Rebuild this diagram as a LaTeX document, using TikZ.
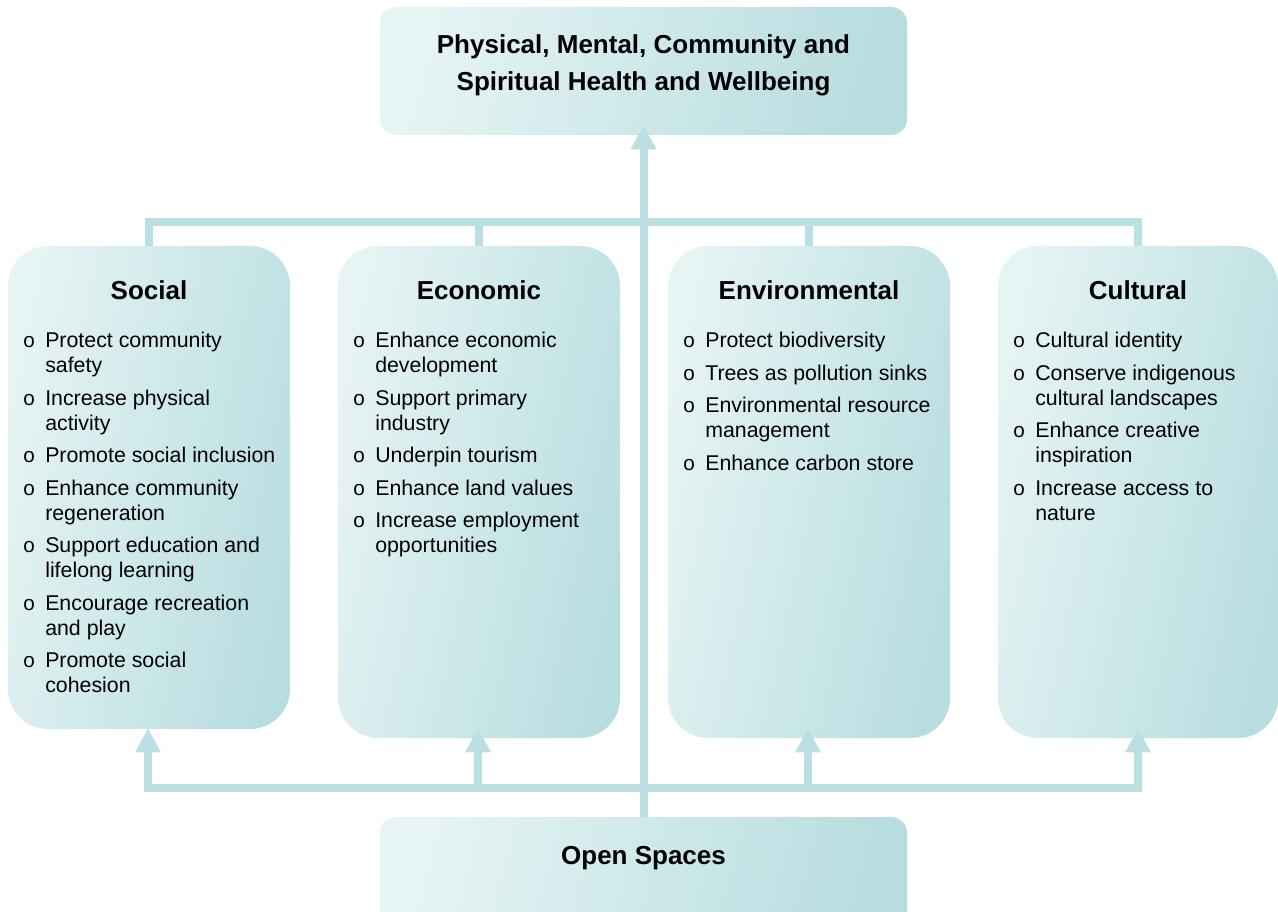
\documentclass[tikz,border=0pt]{standalone}
\usepackage{fontspec}
\setmainfont{Liberation Sans}
\usetikzlibrary{arrows.meta,calc}
\definecolor{boxlight}{HTML}{E6F4F4}
\definecolor{boxdark}{HTML}{B8DDE0}
\definecolor{conncol}{HTML}{BBDFE2}
\newcommand{\bitem}[1]{\par\noindent\hangindent=16.5pt\hangafter=1\makebox[16.5pt][l]{\fontsize{15.5pt}{15.5pt}\selectfont o}#1}
\newcommand{\blist}[1]{\parbox[t]{240pt}{\setlength\parskip{5.6pt}\setlength\parfillskip{0pt plus 1fil}#1}}
\tikzset{
  x=0.75pt, y=-0.75pt,
  panel/.style={shade, top color=boxlight, bottom color=boxdark, shading angle=78,
    rounded corners=30pt, inner sep=0pt, minimum width=211.5pt, minimum height=369pt},
  banner/.style={shade, top color=boxlight, bottom color=boxdark, shading angle=75,
    rounded corners=12pt, inner sep=0pt, minimum width=395.25pt, minimum height=96pt},
  title/.style={inner sep=0pt, anchor=base, font=\fontsize{19.5pt}{28pt}\selectfont\bfseries},
  listtext/.style={inner sep=0pt, anchor=base west, font=\fontsize{16pt}{18.75pt}\selectfont},
  conn/.style={draw=conncol, line width=6pt},
  arr/.style={conn, -{Triangle[width=18pt,length=18pt]}}
}
\begin{document}
\begin{tikzpicture}
\clip (0,0) rectangle (1278,912);
\fill[white] (0,0) rectangle (1278,912);

% boxes
\node[banner] (top) at (643.5,71) {};
\node[banner] (open) at (643.5,881) {};
\node[panel, minimum height=362.25pt] (social) at (149,487.5) {};
\node[panel] (economic) at (479,492) {};
\node[panel] (environmental) at (809,492) {};
\node[panel, minimum width=210pt] (cultural) at (1138,492) {};

% connector points
\coordinate (topbar) at (643.5,222);
\coordinate (botbar) at (643.5,788);
\coordinate (toptip) at ($(top.south)+(0,-10)$);
\coordinate (socialtip) at ($(social.south)+(-1,-1)$);
\coordinate (economictip) at ($(economic.south)+(-1,-10)$);
\coordinate (environmentaltip) at ($(environmental.south)+(-1,-10)$);
\coordinate (culturaltip) at ($(cultural.south)+(0,-10)$);

% top bar
\draw[conn] (social.north) |- (topbar) -| (cultural.north);
\draw[conn] (economic.north) -- (economic.north |- topbar);
\draw[conn] (environmental.north) -- (environmental.north |- topbar);
% bottom bar
\draw[arr] (botbar) -| (socialtip);
\draw[arr] (botbar) -| (culturaltip);
\draw[arr] (economictip |- botbar) -- (economictip);
\draw[arr] (environmentaltip |- botbar) -- (environmentaltip);
% central
\draw[arr] (open.north) -- (toptip);

% texts
\node[title] (topT) at (643.5,53.3) {\parbox[t]{380pt}{\centering Physical, Mental, Community and\\Spiritual Health and Wellbeing}};
\node[title] (openT) at (643.5,864) {Open Spaces};

\node[title] (socialT) at (149,300) {Social};
\node[title] (economicT) at (479,300) {Economic};
\node[title] (environmentalT) at (809,300) {Environmental};
\node[title] (culturalT) at (1138,300) {Cultural};

\node[listtext] (socialL) at (23,348) {\blist{%
\bitem{Protect community\newline safety}%
\bitem{Increase physical\newline activity}%
\bitem{Promote social inclusion}%
\bitem{Enhance community\newline regeneration}%
\bitem{Support education and\newline lifelong learning}%
\bitem{Encourage recreation\newline and play}%
\bitem{Promote social\newline cohesion}}};

\node[listtext] (economicL) at (353,348) {\blist{%
\bitem{Enhance economic\newline development}%
\bitem{Support primary\newline industry}%
\bitem{Underpin tourism}%
\bitem{Enhance land values}%
\bitem{Increase employment\newline opportunities}}};

\node[listtext] (environmentalL) at (683,348) {\blist{%
\bitem{Protect biodiversity}%
\bitem{Trees as pollution sinks}%
\bitem{Environmental resource\newline management}%
\bitem{Enhance carbon store}}};

\node[listtext] (culturalL) at (1013,348) {\blist{%
\bitem{Cultural identity}%
\bitem{Conserve indigenous\newline cultural landscapes}%
\bitem{Enhance creative\newline inspiration}%
\bitem{Increase access to\newline nature}}};
\end{tikzpicture}
\end{document}
